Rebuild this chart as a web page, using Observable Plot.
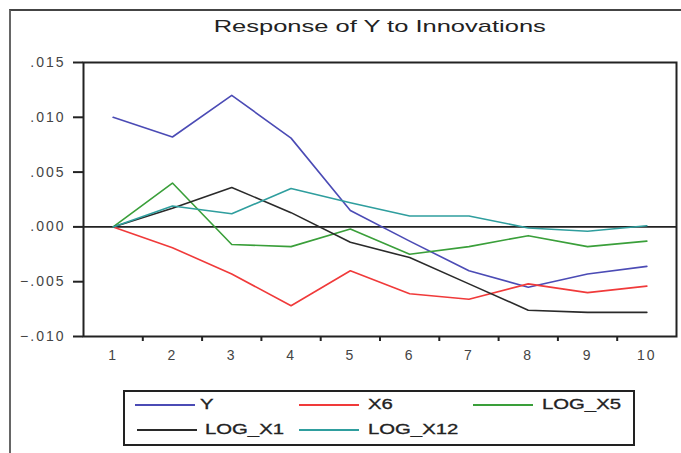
<!DOCTYPE html>
<html>
<head>
<meta charset="utf-8">
<script src="https://cdn.jsdelivr.net/npm/d3@7"></script>
<script src="https://cdn.jsdelivr.net/npm/@observablehq/plot@0.6"></script>
<style>
  html, body { margin: 0; padding: 0; background: #fff; }
  #wrap { position: relative; width: 681px; height: 453px; overflow: hidden; font-family: "Liberation Sans", Arial, sans-serif; }
  #outer { position: absolute; left: 9px; top: 9px; width: 700px; height: 460px; border-left: 2px solid #666; border-top: 2px solid #444; }
  #chart { position: absolute; left: 0; top: 0; }
  #title { position: absolute; left: 0; width: 759px; top: 17px; text-align: center; }
  #title span { display: inline-block; font-size: 17px; color: #222; transform: scaleX(1.5); }
  #legend { position: absolute; left: 123px; top: 390px; width: 508px; height: 52px; border: 2px solid #222; }
  .item { position: absolute; height: 16px; }
  .item .sw { position: absolute; top: 7px; height: 2px; width: 60px; }
  .item .lb { position: absolute; top: -1px; font-size: 14px; color: #222; transform: scaleX(1.45); transform-origin: left center; white-space: nowrap; -webkit-text-stroke: 0.3px #222; }
  #chart svg text { -webkit-text-stroke: 0.25px #444; }
</style>
</head>
<body>
<div id="wrap">
  <div id="outer"></div>
  <div id="title"><span>Response of Y to Innovations</span></div>
  <div id="chart"></div>
  <div id="legend"></div>
</div>
<script>
const steps = [1, 2, 3, 4, 5, 6, 7, 8, 9, 10];
const seriesNames = ["Y", "X6", "LOG_X5", "LOG_X1", "LOG_X12"];
const seriesColors = ["#4b4bb5", "#f03a3a", "#3a9f3a", "#2a2a2a", "#2f9e9e"];
const Y       = [0.0100, 0.0082, 0.0120, 0.0081, 0.0015, -0.0013, -0.0040, -0.0055, -0.0043, -0.0036];
const X6      = [0.0000, -0.0019, -0.0043, -0.0072, -0.0040, -0.0061, -0.0066, -0.0052, -0.0060, -0.0054];
const LOG_X5  = [0.0000, 0.0040, -0.0016, -0.0018, -0.0002, -0.0025, -0.0018, -0.0008, -0.0018, -0.0013];
const LOG_X1  = [0.0000, 0.0017, 0.0036, 0.0013, -0.0014, -0.0028, -0.0052, -0.0076, -0.0078, -0.0078];
const LOG_X12 = [0.0000, 0.0019, 0.0012, 0.0035, 0.0022, 0.0010, 0.0010, -0.0001, -0.0004, 0.0001];
const yTicks = [-0.010, -0.005, 0.000, 0.005, 0.010, 0.015];
const boundaryTicks = [1.5, 2.5, 3.5, 4.5, 5.5, 6.5, 7.5, 8.5, 9.5];

const allSeries = [Y, X6, LOG_X5, LOG_X1, LOG_X12];
const rows = [];
seriesNames.forEach((name, i) => {
  steps.forEach((s, j) => rows.push({step: s, value: allSeries[i][j], series: name}));
});

const fmt = v => {
  const s = d3.format(".3f")(Math.abs(v) < 1e-12 ? 0 : v);
  return s.replace("0.", ".");
};

const chart = Plot.plot({
  width: 681,
  height: 362,
  marginTop: 62,
  marginLeft: 83,
  marginRight: 5,
  marginBottom: 26,
  style: {fontFamily: "Liberation Sans, Arial, sans-serif", fontSize: "14px", letterSpacing: "2px", color: "#444", background: "transparent"},
  x: {domain: [0.5, 10.5]},
  y: {domain: [-0.010, 0.015]},
  color: {domain: seriesNames, range: seriesColors},
  marks: [
    Plot.ruleY([0], {stroke: "#222", strokeWidth: 1.6}),
    Plot.line(rows, {x: "step", y: "value", z: "series", stroke: "series", strokeWidth: 1.6}),
    Plot.frame({stroke: "#222", strokeWidth: 2}),
    Plot.axisY(yTicks, {tickSize: 10, tickPadding: 8, tickFormat: fmt, label: null, stroke: "#222", strokeWidth: 2}),
    Plot.axisX(steps, {tickSize: 0, tickPadding: 14, tickFormat: d => String(d), label: null}),
    Plot.axisX(boundaryTicks, {tickSize: 5, tickFormat: () => "", label: null, stroke: "#222", strokeWidth: 2})
  ]
});
document.getElementById("chart").appendChild(chart);

// Legend
const legend = document.getElementById("legend");
const legendPos = [
  {sw: 10, lb: 75, top: 5},
  {sw: 174, lb: 243, top: 5},
  {sw: 348, lb: 417, top: 5},
  {sw: 12, lb: 80, top: 30},
  {sw: 174, lb: 243, top: 30}
];
seriesNames.forEach((name, i) => {
  const p = legendPos[i];
  const item = document.createElement("div");
  item.className = "item";
  item.style.left = "0px";
  item.style.top = p.top + "px";
  const sw = document.createElement("div");
  sw.className = "sw";
  sw.style.left = p.sw + "px";
  sw.style.background = seriesColors[i];
  const lb = document.createElement("div");
  lb.className = "lb";
  lb.style.left = p.lb + "px";
  lb.textContent = name;
  item.appendChild(sw);
  item.appendChild(lb);
  legend.appendChild(item);
});
</script>
</body>
</html>
